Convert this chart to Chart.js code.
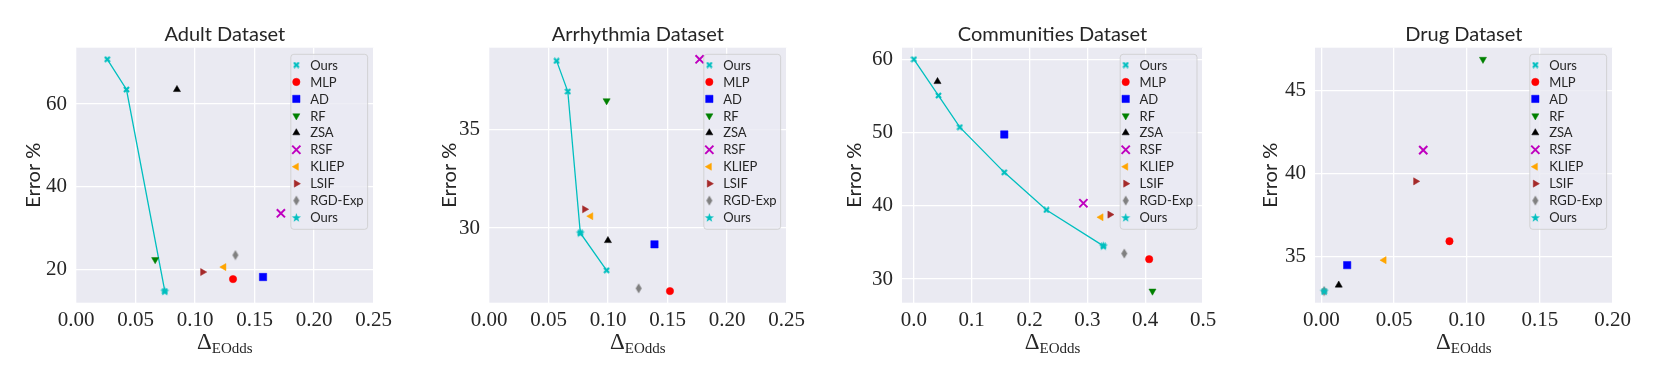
<!DOCTYPE html>
<html><head><meta charset="utf-8">
<script src="https://cdn.jsdelivr.net/npm/chart.js@4.4.0/dist/chart.umd.min.js"></script>
<style>
html,body{margin:0;padding:0;background:#fff;}
body{width:1661px;height:378px;position:relative;overflow:hidden;}
canvas{position:absolute;top:0;}
</style></head><body>
<canvas id="c0" width="397" height="378" style="left:0px"></canvas>
<canvas id="c1" width="397" height="378" style="left:413px"></canvas>
<canvas id="c2" width="397" height="378" style="left:825.7px"></canvas>
<canvas id="c3" width="397" height="378" style="left:1239px"></canvas>
<script>
// ---------- DATA ----------
const methods = ['MLP', 'AD', 'RF', 'ZSA', 'RSF', 'KLIEP', 'LSIF', 'RGD-Exp'];
const panelTitles = ['Adult Dataset', 'Arrhythmia Dataset', 'Communities Dataset', 'Drug Dataset'];

// Adult
const adultX = [0.1319, 0.1571, 0.0665, 0.0848, 0.1721, 0.1242, 0.1064, 0.1339];
const adultY = [17.7, 18.2, 22.4, 63.5, 33.6, 20.6, 19.4, 23.5];
const adultOursX = [0.0263, 0.0424, 0.0746];
const adultOursY = [70.8, 63.5, 14.8];
const adultStar = [0.0746, 14.8];

// Arrhythmia
const arrhX = [0.152, 0.139, 0.0988, 0.0999, 0.1769, 0.0855, 0.0803, 0.1257];
const arrhY = [26.79, 29.17, 36.47, 29.36, 38.58, 30.6, 30.95, 26.93];
const arrhOursX = [0.0568, 0.0662, 0.0767, 0.0988];
const arrhOursY = [38.5, 36.94, 29.75, 27.85];
const arrhStar = [0.0767, 29.75];

// Communities
const commX = [0.4069, 0.1563, 0.4126, 0.0408, 0.2931, 0.3236, 0.339, 0.3638];
const commY = [32.72, 49.74, 28.36, 56.96, 40.35, 38.44, 38.8, 33.49];
const commOursX = [0.0, 0.0425, 0.0793, 0.1563, 0.2293, 0.3276];
const commOursY = [60.0, 55.05, 50.74, 44.57, 39.44, 34.53];
const commStar = [0.3276, 34.53];

// Drug
const drugX = [0.088, 0.0178, 0.111, 0.012, 0.07, 0.0431, 0.0648, 0.002];
const drugY = [35.92, 34.48, 46.86, 33.28, 41.4, 34.78, 39.52, 32.92];
const drugOursX = [0.002];
const drugOursY = [32.92];
const drugStar = [0.002, 32.92];

// Axis ranges and tick labels
const xMins = [0, 0, -0.0206, -0.0043];
const xMaxs = [0.25, 0.25, 0.5, 0.2];
const yMins = [12.0, 26.2, 26.78, 32.22];
const yMaxs = [73.6, 39.17, 61.58, 47.56];
const xTicksA = [0, 0.05, 0.10, 0.15, 0.20, 0.25];
const xTicksC = [0, 0.1, 0.2, 0.3, 0.4, 0.5];
const xTicksD = [0, 0.05, 0.10, 0.15, 0.20];
const yTicksA = [20, 40, 60];
const yTicksB = [30, 35];
const yTicksC = [30, 40, 50, 60];
const yTicksD = [35, 40, 45];

// ---------- STYLE ----------
const CYAN = '#00bfbf';
const TEXT = '#262626';
function mk(w, h, draw) {
  const c = document.createElement('canvas');
  c.width = w; c.height = h;
  draw(c.getContext('2d'), w, h);
  return c;
}
const xImg = mk(7, 7, (g) => {
  g.strokeStyle = CYAN; g.lineWidth = 2.2; g.lineCap = 'butt';
  g.beginPath(); g.moveTo(1, 1); g.lineTo(6, 6); g.moveTo(6, 1); g.lineTo(1, 6); g.stroke();
});
const starImg = mk(11, 11, (g, w, h) => {
  g.fillStyle = CYAN; g.beginPath();
  const cx = w / 2, cy = h / 2 + 0.4, R = 4.8, r = R * 0.4;
  for (let i = 0; i < 10; i++) {
    const a = -Math.PI / 2 + i * Math.PI / 5, rr = i % 2 ? r : R;
    const px = cx + rr * Math.cos(a), py = cy + rr * Math.sin(a);
    i ? g.lineTo(px, py) : g.moveTo(px, py);
  }
  g.closePath(); g.fill();
});
const diamondImg = mk(8, 11, (g, w, h) => {
  g.fillStyle = '#808080'; g.beginPath();
  g.moveTo(w / 2, 0.5); g.lineTo(w - 1, h / 2); g.lineTo(w / 2, h - 0.5); g.lineTo(1, h / 2);
  g.closePath(); g.fill();
});
const mStyles = [
  { pointStyle: 'circle', radius: 3.7, rotation: 0, color: '#ff0000', bw: 0.5 },
  { pointStyle: 'rect', radius: 5.2, rotation: 0, color: '#0000ff', bw: 0.5 },
  { pointStyle: 'triangle', radius: 4.1, rotation: 180, color: '#008000', bw: 0.5 },
  { pointStyle: 'triangle', radius: 4.1, rotation: 0, color: '#000000', bw: 0.5 },
  { pointStyle: 'crossRot', radius: 5.8, rotation: 0, color: '#bf00bf', bw: 2 },
  { pointStyle: 'triangle', radius: 4.1, rotation: -90, color: '#ffa500', bw: 0.5 },
  { pointStyle: 'triangle', radius: 4.1, rotation: 90, color: '#a52a2a', bw: 0.5 },
  { pointStyle: diamondImg, radius: 5, rotation: 0, color: '#808080', bw: 0 }
];
const oursXStyle = { pointStyle: xImg, radius: 3, rotation: 0, color: CYAN, bw: 0 };
const oursStarStyle = { pointStyle: starImg, radius: 5, rotation: 0, color: CYAN, bw: 0 };

// ---------- LAYOUT ----------
const PLOT_LEFT = 76, PLOT_TOP = 47.7, PLOT_W = 301, PLOT_BOTTOM = 302.7, H = 378;

const decoPlugin = {
  id: 'deco',
  beforeDraw(chart) {
    const a = chart.chartArea, ctx = chart.ctx;
    ctx.save(); ctx.fillStyle = '#eaeaf2';
    ctx.fillRect(a.left, a.top, a.right - a.left, a.bottom - a.top);
    ctx.restore();
  },
  afterDatasetsDraw(chart) {
    const a = chart.chartArea, ctx = chart.ctx;
    // legend
    const bw = 76.8, bh = 175, bx = a.right - 6 - bw, by = a.top + 6.6;
    ctx.save();
    ctx.beginPath();
    if (ctx.roundRect) ctx.roundRect(bx, by, bw, bh, 3); else ctx.rect(bx, by, bw, bh);
    ctx.fillStyle = 'rgba(234,234,242,0.8)'; ctx.fill();
    ctx.strokeStyle = 'rgba(204,204,204,0.8)'; ctx.lineWidth = 1; ctx.stroke();
    const entries = [['Ours', oursXStyle]].concat(methods.map((m, i) => [m, mStyles[i]])).concat([['Ours', oursStarStyle]]);
    ctx.font = '13px Lato';
    ctx.textBaseline = 'middle'; ctx.textAlign = 'left';
    entries.forEach((e, i) => {
      const y = by + 10.7 + i * 16.95;
      const st = e[1];
      ctx.save();
      ctx.fillStyle = st.color; ctx.strokeStyle = st.color; ctx.lineWidth = st.bw;
      Chart.helpers.drawPoint(ctx, { pointStyle: st.pointStyle, radius: st.radius, rotation: st.rotation, borderWidth: st.bw }, bx + 5.5, y);
      ctx.restore();
      ctx.fillStyle = TEXT;
      ctx.fillText(e[0], bx + 19.3, y + 0.5);
    });
    ctx.restore();
  },
  afterDraw(chart) {
    const o = chart.options.plugins.deco, a = chart.chartArea, ctx = chart.ctx;
    const cx = (a.left + a.right) / 2;
    ctx.save();
    ctx.fillStyle = TEXT;
    // title
    ctx.font = '20px Lato'; ctx.textAlign = 'center'; ctx.textBaseline = 'alphabetic';
    ctx.fillText(o.title, cx, 40.5);
    // y label
    ctx.save();
    ctx.translate(o.yLabelX, (a.top + a.bottom) / 2);
    ctx.rotate(-Math.PI / 2);
    ctx.font = '20px Lato'; ctx.textAlign = 'center'; ctx.textBaseline = 'middle';
    ctx.fillText('Error %', 0, 0);
    ctx.restore();
    // x label: Delta with subscript
    ctx.textAlign = 'left'; ctx.textBaseline = 'alphabetic';
    ctx.font = '23px "Liberation Serif"';
    const d = 'Δ', w1 = ctx.measureText(d).width;
    ctx.font = '15px "Liberation Serif"';
    const s = 'EOdds', w2 = ctx.measureText(s).width;
    const x0 = cx - (w1 + w2) / 2;
    ctx.font = '23px "Liberation Serif"';
    ctx.fillText(d, x0, 349);
    ctx.font = '15px "Liberation Serif"';
    ctx.fillText(s, x0 + w1, 353);
    ctx.restore();
  }
};

function pts(xs, ys) { return xs.map((x, i) => ({ x: x, y: ys[i] })); }

function makeChart(id, cfg) {
  const datasets = [];
  datasets.push({
    label: 'Ours', data: pts(cfg.oursX, cfg.oursY), showLine: true,
    borderColor: CYAN, borderWidth: 1.3, pointStyle: xImg, pointRadius: 3,
    pointBackgroundColor: CYAN, pointBorderColor: CYAN, pointBorderWidth: 0
  });
  methods.forEach((m, i) => {
    const st = mStyles[i];
    datasets.push({
      label: m, data: [{ x: cfg.mx[i], y: cfg.my[i] }],
      pointStyle: st.pointStyle, pointRadius: st.radius, pointRotation: st.rotation,
      pointBackgroundColor: st.color, pointBorderColor: st.color, pointBorderWidth: st.bw
    });
  });
  datasets.push({
    label: 'Ours', data: [{ x: cfg.star[0], y: cfg.star[1] }],
    pointStyle: starImg, pointRadius: 5, pointBackgroundColor: CYAN, pointBorderColor: CYAN, pointBorderWidth: 0
  });
  datasets.forEach((d, i) => { d.order = -i; });
  return new Chart(document.getElementById(id), {
    type: 'scatter',
    data: { datasets },
    plugins: [decoPlugin],
    options: {
      responsive: false, animation: false, devicePixelRatio: 1, events: [],
      layout: { padding: { left: 0, top: PLOT_TOP, right: 20, bottom: 0 } },
      plugins: { legend: { display: false }, tooltip: { enabled: false },
        deco: { title: cfg.title, yLabelX: cfg.yLabelX } },
      scales: {
        x: {
          type: 'linear', min: cfg.xmin, max: cfg.xmax,
          afterBuildTicks: (s) => { s.ticks = cfg.xt.map(v => ({ value: v })); },
          afterFit: (s) => { s.height = H - PLOT_BOTTOM; },
          ticks: { font: { family: 'Liberation Serif', size: 21 }, color: TEXT, padding: 5,
            maxRotation: 0, autoSkip: false, callback: (v) => Number(v).toFixed(cfg.xdec) },
          grid: { color: '#ffffff', lineWidth: 1.3, drawTicks: false },
          border: { display: false }
        },
        y: {
          type: 'linear', min: cfg.ymin, max: cfg.ymax,
          afterBuildTicks: (s) => { s.ticks = cfg.yt.map(v => ({ value: v })); },
          afterFit: (s) => { s.width = PLOT_LEFT; },
          ticks: { font: { family: 'Liberation Serif', size: 21 }, color: TEXT, padding: 9,
            autoSkip: false, callback: (v) => String(v) },
          grid: { color: '#ffffff', lineWidth: 1.3, drawTicks: false },
          border: { display: false }
        }
      }
    }
  });
}

makeChart('c0', { title: panelTitles[0], mx: adultX, my: adultY, oursX: adultOursX, oursY: adultOursY, star: adultStar,
  xmin: xMins[0], xmax: xMaxs[0], ymin: yMins[0], ymax: yMaxs[0], xt: xTicksA, yt: yTicksA, xdec: 2, yLabelX: 34 });
makeChart('c1', { title: panelTitles[1], mx: arrhX, my: arrhY, oursX: arrhOursX, oursY: arrhOursY, star: arrhStar,
  xmin: xMins[1], xmax: xMaxs[1], ymin: yMins[1], ymax: yMaxs[1], xt: xTicksA, yt: yTicksB, xdec: 2, yLabelX: 37 });
makeChart('c2', { title: panelTitles[2], mx: commX, my: commY, oursX: commOursX, oursY: commOursY, star: commStar,
  xmin: xMins[2], xmax: xMaxs[2], ymin: yMins[2], ymax: yMaxs[2], xt: xTicksC, yt: yTicksC, xdec: 1, yLabelX: 29 });
makeChart('c3', { title: panelTitles[3], mx: drugX, my: drugY, oursX: drugOursX, oursY: drugOursY, star: drugStar,
  xmin: xMins[3], xmax: xMaxs[3], ymin: yMins[3], ymax: yMaxs[3], xt: xTicksD, yt: yTicksD, xdec: 2, yLabelX: 32 });
</script>
</body></html>
